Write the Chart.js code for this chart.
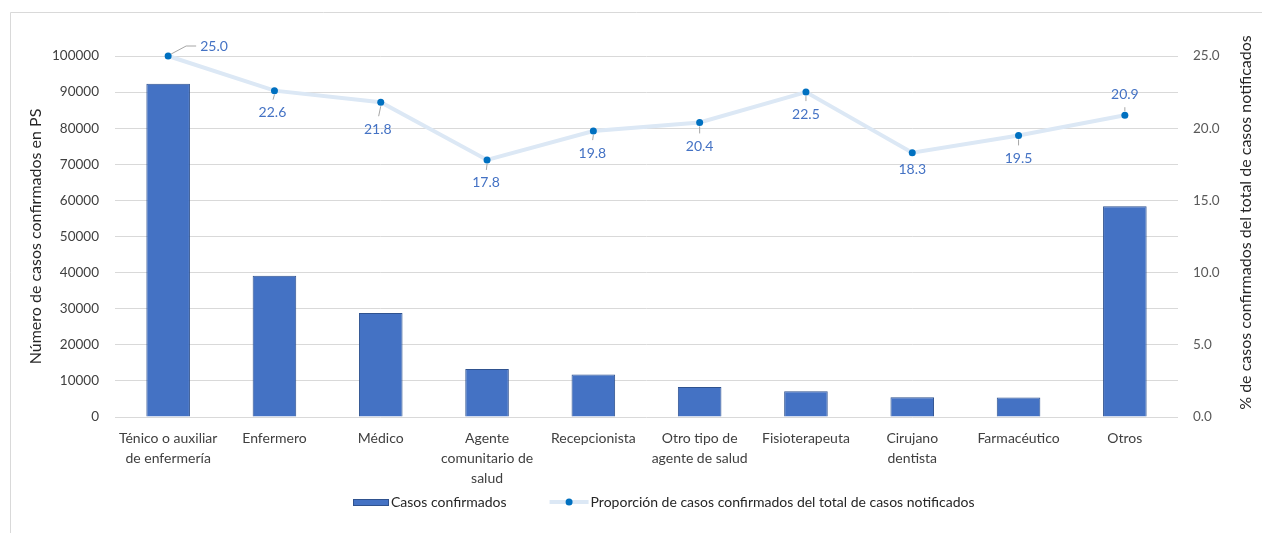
<!DOCTYPE html>
<html lang="es">
<head>
<meta charset="utf-8">
<title>Casos confirmados en personal de salud</title>
<script src="https://cdn.jsdelivr.net/npm/chart.js@4.4.1/dist/chart.umd.min.js"></script>
<style>
  html, body { margin: 0; padding: 0; background: #ffffff; }
  #wrap { width: 1262px; height: 533px; position: relative; }
  canvas { display: block; }
</style>
</head>
<body>
<div id="wrap"><canvas id="chart" width="1262" height="533"></canvas></div>
<script>
// Categorías de personal de salud (PS)
const categories = [
  ['Ténico o auxiliar', 'de enfermería'],
  'Enfermero',
  'Médico',
  ['Agente', 'comunitario de', 'salud'],
  'Recepcionista',
  ['Otro tipo de', 'agente de salud'],
  'Fisioterapeuta',
  ['Cirujano', 'dentista'],
  'Farmacéutico',
  'Otros'
];

// Número de casos confirmados en PS
const casosConfirmados = [92300, 39100, 28800, 13300, 11800, 8300, 7100, 5500, 5400, 58400];

// % de casos confirmados del total de casos notificados
const proporcion = [25.0, 22.6, 21.8, 17.8, 19.8, 20.4, 22.5, 18.3, 19.5, 20.9];

// Marcas de los ejes
const leftTicks = [0, 10000, 20000, 30000, 40000, 50000, 60000, 70000, 80000, 90000, 100000];
const rightTicks = [0, 5, 10, 15, 20, 25];

const RIGHT_TITLE = '% de casos confirmados del total de casos notificados';

const FONT = 'Lato, "Open Sans", "Noto Sans", sans-serif';
const BAR_FILL = '#4472c4';
const BAR_EDGE = '#2f528f';
const LINE_COLOR = '#dce8f5';
const POINT_COLOR = '#0070c0';
const LABEL_COLOR = '#4472c4';
const GRID_COLOR = '#d9d9d9';

// Ubicación de cada etiqueta de valor respecto a su punto
const labelPlacement = [
  { dx: 32, dy: -10, elbow: true },
  { dx: -2, dy: 22 },
  { dx: -3, dy: 27 },
  { dx: -1, dy: 23 },
  { dx: -1, dy: 22 },
  { dx: 0, dy: 24 },
  { dx: 0, dy: 22 },
  { dx: 0, dy: 17 },
  { dx: 0, dy: 23 },
  { dx: 0, dy: -21 }
];

// Marco exterior del gráfico
const framePlugin = {
  id: 'frame',
  beforeDraw(chart) {
    const ctx = chart.ctx;
    ctx.save();
    ctx.fillStyle = '#ffffff';
    ctx.fillRect(0, 0, chart.width, chart.height);
    ctx.strokeStyle = GRID_COLOR;
    ctx.lineWidth = 1;
    ctx.beginPath();
    ctx.moveTo(10.5, chart.height);
    ctx.lineTo(10.5, 12.5);
    ctx.lineTo(chart.width, 12.5);
    ctx.stroke();
    ctx.restore();
  }
};

// Título del eje derecho, leído de abajo hacia arriba
const rightTitlePlugin = {
  id: 'rightTitle',
  afterDraw(chart) {
    const ctx = chart.ctx;
    const s = chart.scales.y1;
    ctx.save();
    ctx.font = '16px ' + FONT;
    ctx.fillStyle = '#262626';
    ctx.textAlign = 'center';
    ctx.textBaseline = 'middle';
    ctx.translate(s.right - 16, (s.top + s.bottom) / 2 - 14);
    ctx.rotate(-Math.PI / 2);
    ctx.fillText(RIGHT_TITLE, 0, 0);
    ctx.restore();
  }
};

// Etiquetas de valor de la línea, con líneas guía
const valueLabelPlugin = {
  id: 'valueLabels',
  afterDatasetsDraw(chart) {
    const meta = chart.getDatasetMeta(1);
    const ctx = chart.ctx;
    ctx.save();
    ctx.font = '14px ' + FONT;
    ctx.textBaseline = 'middle';
    meta.data.forEach((pt, i) => {
      const p = labelPlacement[i];
      const x = pt.x, y = pt.y;
      const text = proporcion[i].toFixed(1);
      ctx.strokeStyle = '#a6a6a6';
      ctx.lineWidth = 1;
      if (p.elbow) {
        const ly = y + p.dy;
        ctx.beginPath();
        ctx.moveTo(x + 3, y - 2);
        ctx.lineTo(x + p.dx - 14, ly);
        ctx.lineTo(x + p.dx - 4, ly);
        ctx.stroke();
        ctx.fillStyle = LABEL_COLOR;
        ctx.textAlign = 'left';
        ctx.fillText(text, x + p.dx, ly);
      } else {
        const lx = x + p.dx, ly = y + p.dy;
        const dir = Math.sign(p.dy);
        const y0 = y + dir * 4;
        const y1 = ly - dir * 13;
        if ((y1 - y0) * dir > 2) {
          ctx.beginPath();
          ctx.moveTo(x, y0);
          ctx.lineTo(x + p.dx * 0.7, y1);
          ctx.stroke();
        }
        ctx.fillStyle = LABEL_COLOR;
        ctx.textAlign = 'center';
        ctx.fillText(text, lx, ly);
      }
    });
    ctx.restore();
  }
};

// Leyenda inferior
const legendPlugin = {
  id: 'bottomLegend',
  afterDraw(chart) {
    const ctx = chart.ctx;
    const ds = chart.data.datasets;
    ctx.save();
    ctx.font = '14px ' + FONT;
    ctx.textBaseline = 'middle';
    ctx.textAlign = 'left';
    const y = 502;
    const barW = 36, lineW = 39, gapIcon = 2, gapItems = 43;
    const t0 = ctx.measureText(ds[0].label).width;
    const t1 = ctx.measureText(ds[1].label).width;
    const total = barW + gapIcon + t0 + gapItems + lineW + gapIcon + t1;
    let x = Math.round(664 - total / 2);
    ctx.fillStyle = BAR_FILL;
    ctx.fillRect(x, y - 3, barW, 7);
    ctx.strokeStyle = BAR_EDGE;
    ctx.lineWidth = 1;
    ctx.strokeRect(x + 0.5, y - 2.5, barW - 1, 6);
    x += barW + gapIcon;
    ctx.fillStyle = '#262626';
    ctx.fillText(ds[0].label, x, y);
    x += t0 + gapItems;
    ctx.strokeStyle = LINE_COLOR;
    ctx.lineWidth = 4;
    ctx.beginPath();
    ctx.moveTo(x, y);
    ctx.lineTo(x + lineW, y);
    ctx.stroke();
    ctx.fillStyle = POINT_COLOR;
    ctx.beginPath();
    ctx.arc(x + lineW / 2, y, 3.5, 0, Math.PI * 2);
    ctx.fill();
    x += lineW + gapIcon;
    ctx.fillStyle = '#262626';
    ctx.fillText(ds[1].label, x, y);
    ctx.restore();
  }
};

new Chart(document.getElementById('chart'), {
  data: {
    labels: categories,
    datasets: [
      {
        type: 'bar',
        label: 'Casos confirmados',
        data: casosConfirmados,
        yAxisID: 'y',
        backgroundColor: BAR_FILL,
        borderColor: BAR_EDGE,
        borderWidth: 1,
        barPercentage: 0.41,
        categoryPercentage: 1.0,
        order: 2
      },
      {
        type: 'line',
        label: 'Proporción de casos confirmados del total de casos notificados',
        data: proporcion,
        yAxisID: 'y1',
        borderColor: LINE_COLOR,
        borderWidth: 4,
        pointBackgroundColor: POINT_COLOR,
        pointBorderColor: POINT_COLOR,
        pointRadius: 3.5,
        pointBorderWidth: 0,
        tension: 0,
        clip: false,
        order: 1
      }
    ]
  },
  options: {
    responsive: false,
    animation: false,
    devicePixelRatio: 1,
    layout: { padding: { top: 56, bottom: 41, left: 0, right: 0 } },
    plugins: {
      legend: { display: false },
      tooltip: { enabled: false }
    },
    scales: {
      x: {
        grid: { display: false },
        border: { display: false },
        ticks: {
          color: '#404040',
          font: { family: FONT, size: 14, lineHeight: 1.43 },
          padding: 3,
          maxRotation: 0,
          autoSkip: false
        },
        afterFit(s) { s.height = 75; }
      },
      y: {
        position: 'left',
        min: 0,
        max: 100000,
        afterBuildTicks(s) { s.ticks = leftTicks.map(v => ({ value: v })); },
        grid: { color: GRID_COLOR, lineWidth: 1, drawTicks: false },
        border: { display: false },
        ticks: {
          color: '#404040',
          font: { family: FONT, size: 13.5 },
          padding: 16,
          callback: v => String(v)
        },
        title: {
          display: true,
          text: 'Número de casos confirmados en PS',
          color: '#262626',
          font: { family: FONT, size: 16 },
          padding: { top: 26, bottom: 0 }
        },
        afterFit(s) { s.width = 115; }
      },
      y1: {
        position: 'right',
        min: 0,
        max: 25,
        afterBuildTicks(s) { s.ticks = rightTicks.map(v => ({ value: v })); },
        grid: { display: false, drawTicks: false },
        border: { display: false },
        ticks: {
          color: '#595959',
          font: { family: FONT, size: 13.5 },
          padding: 15,
          callback: v => Number(v).toFixed(1)
        },
        title: { display: false },
        afterFit(s) { s.width = 84; }
      }
    }
  },
  plugins: [framePlugin, valueLabelPlugin, legendPlugin, rightTitlePlugin]
});
</script>
</body>
</html>
